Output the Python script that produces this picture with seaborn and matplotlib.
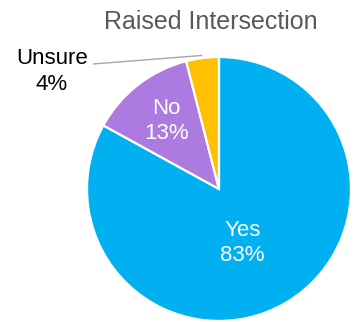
import numpy as np
import matplotlib
matplotlib.use("Agg")
import matplotlib.pyplot as plt
import seaborn as sns

# Survey responses
categories = ["Yes", "No", "Unsure"]
shares = [83, 13, 4]
title = "Raised Intersection"

sns.set_theme(style="white")
plt.rcParams["font.family"] = ["Liberation Sans", "DejaVu Sans"]
palette = sns.color_palette(["#00B0F0", "#AD7BDF", "#FFC000"])

fig = plt.figure(figsize=(3.56, 3.22), dpi=100)
ax = fig.add_axes([0, 0, 1, 1])

wedges, _ = ax.pie(
    shares, colors=palette, startangle=90, counterclock=False,
    radius=1, center=(0, 0),
    wedgeprops=dict(edgecolor="white", linewidth=1.6),
)
ax.set_aspect("equal")
ax.set_xlim(-1.659, 1.038)
ax.set_ylim(-1.008, 1.432)
ax.axis("off")

def label(cat, val):
    return f"{cat}\n{val}%"

# Inside labels
ax.text(0.18, -0.41, label(categories[0], shares[0]), ha="center", va="center",
        color="white", fontsize=16, linespacing=1.3)
ax.text(-0.40, 0.515, label(categories[1], shares[1]), ha="center", va="center",
        color="white", fontsize=16, linespacing=1.3)

# Outside label with leader line
w = wedges[2]
mid = np.deg2rad((w.theta1 + w.theta2) / 2)
end = (1.02 * np.cos(mid), 1.02 * np.sin(mid))
ax.plot([-0.955, end[0]], [0.947, end[1]], color="#A6A6A6", lw=1.0,
        solid_capstyle="butt")
ax.text(-1.265, 0.89, label(categories[2], shares[2]), ha="center", va="center",
        color="black", fontsize=16, linespacing=1.3)

ax.text(-0.06, 1.265, title, ha="center", va="center", color="#595959", fontsize=18)

fig.savefig("out.png", dpi=100)
